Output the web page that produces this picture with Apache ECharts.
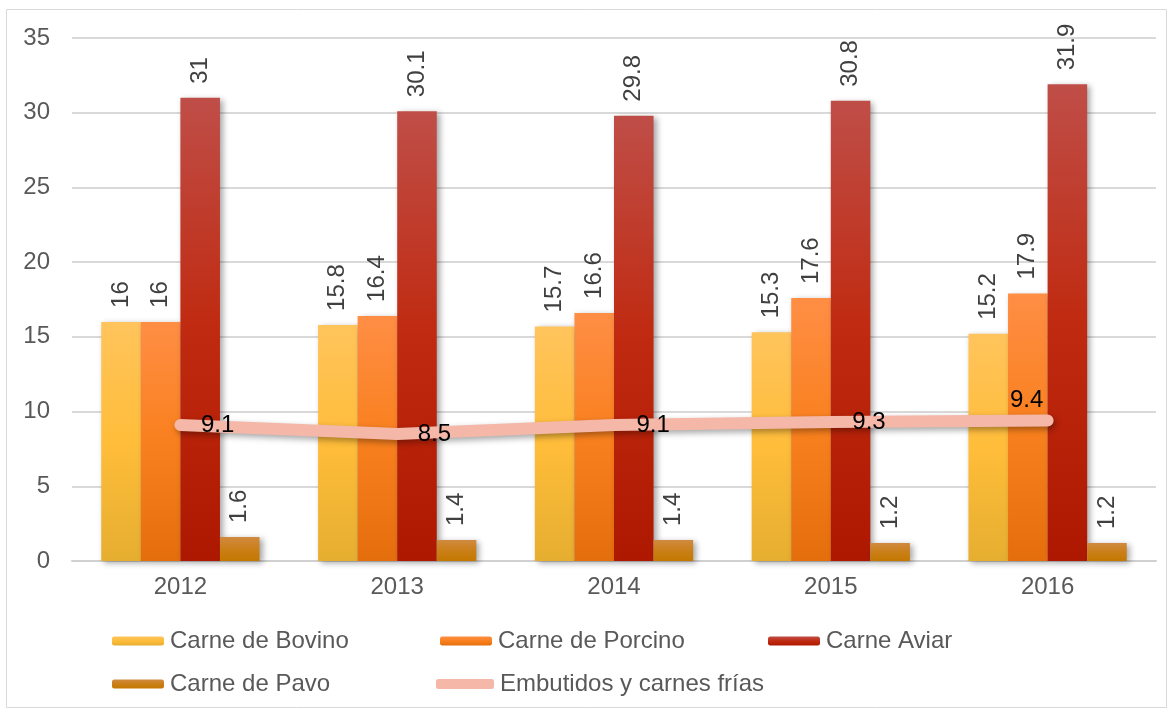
<!DOCTYPE html>
<html><head><meta charset="utf-8">
<script src="https://cdn.jsdelivr.net/npm/echarts@6/dist/echarts.min.js"></script>
<style>html,body{margin:0;padding:0;background:#fff}#c{width:1172px;height:711px}</style>
</head><body><div id="c"></div>
<script>
const years = ['2012','2013','2014','2015','2016'];
const bovino = [16, 15.8, 15.7, 15.3, 15.2];
const porcino = [16, 16.4, 16.6, 17.6, 17.9];
const aviar = [31, 30.1, 29.8, 30.8, 31.9];
const pavo = [1.6, 1.4, 1.4, 1.2, 1.2];
const embutidos = [9.1, 8.5, 9.1, 9.3, 9.4];
const yTicks = [0, 5, 10, 15, 20, 25, 30, 35];

const FONT = '"Liberation Sans", Arial, sans-serif';
function grad(top, bottom){
  return new echarts.graphic.LinearGradient(0,0,0,1,[{offset:0,color:top},{offset:0.5,color:bottom[0]},{offset:1,color:bottom[1]}]);
}
const barLabel = {show:true, position:'top', rotate:90, align:'left', verticalAlign:'middle', distance:14,
  fontFamily:FONT, fontSize:24, color:'#404040'};
const shadow = {shadowColor:'rgba(0,0,0,0.35)', shadowBlur:6, shadowOffsetX:3, shadowOffsetY:2};
function barSeries(name, data, c){
  return {name, type:'bar', data, barGap:'0%', barCategoryGap:'27%',
    itemStyle:Object.assign({color:c}, shadow), label:barLabel, emphasis:{disabled:true}};
}
const linePos = [
  {show:true, position:'right', distance:20},
  {show:true, position:'right', distance:20},
  {show:true, position:'right', distance:22},
  {show:true, position:'right', distance:21},
  {show:true, position:'top', distance:8, offset:[-21,0]}
];
const lineData = embutidos.map((v,i)=>({value:v, label:linePos[i]}));
const chart = echarts.init(document.getElementById('c'));
const legendBase = {itemWidth:52, itemHeight:9, padding:0, itemGap:4,
  textStyle:{fontFamily:FONT, fontSize:24, color:'#595959', padding:[0,0,0,1]}};
chart.setOption({
  animation:false,
  graphic:[{type:'rect', shape:{x:6.5,y:9.5,width:1160,height:698}, style:{fill:'none', stroke:'#D9D9D9', lineWidth:1}, z:-1}],
  grid:{left:72, right:16, top:38, bottom:150},
  legend:[
    Object.assign({data:['Carne de Bovino'], left:112, top:629}, legendBase),
    Object.assign({data:['Carne de Porcino'], left:440, top:629}, legendBase),
    Object.assign({data:['Carne Aviar'], left:768, top:629}, legendBase),
    Object.assign({data:['Carne de Pavo'], left:112, top:672}, legendBase),
    Object.assign({}, legendBase, {data:[{name:'Embutidos y carnes frías', icon:'roundRect'}], left:436, top:672, itemWidth:58, itemHeight:10})
  ],
  xAxis:{type:'category', data:years, axisTick:{show:false},
    axisLine:{lineStyle:{color:'#D0D0D0', width:2}},
    axisLabel:{fontFamily:FONT, fontSize:24, color:'#595959', margin:14}},
  yAxis:{type:'value', min:0, max:35, interval:5,
    axisLabel:{fontFamily:FONT, fontSize:24, color:'#595959', margin:22, formatter:v=>yTicks.includes(v)?String(v):''},
    splitLine:{lineStyle:{color:'#D9D9D9', width:2}}},
  series:[
    barSeries('Carne de Bovino', bovino, grad('#FFC45C',['#FFBD3A','#E6AE30'])),
    barSeries('Carne de Porcino', porcino, grad('#FF8E45',['#F9801E','#E56E0C'])),
    barSeries('Carne Aviar', aviar, grad('#BF4E48',['#C02A10','#AE1800'])),
    barSeries('Carne de Pavo', pavo, grad('#D08A40',['#CA7F18','#C47800'])),
    {name:'Embutidos y carnes frías', type:'line', data:lineData, z:5, symbol:'circle', symbolSize:1,
      lineStyle:{color:'#F5B7A8', width:12, cap:'round', join:'round',
        shadowColor:'rgba(0,0,0,0.35)', shadowBlur:6, shadowOffsetX:2, shadowOffsetY:3},
      itemStyle:{color:'#F5B7A8', borderWidth:0},
      label:{show:true, fontFamily:FONT, fontSize:24, color:'#000'},
      emphasis:{disabled:true}}
  ]
});
</script></body></html>
